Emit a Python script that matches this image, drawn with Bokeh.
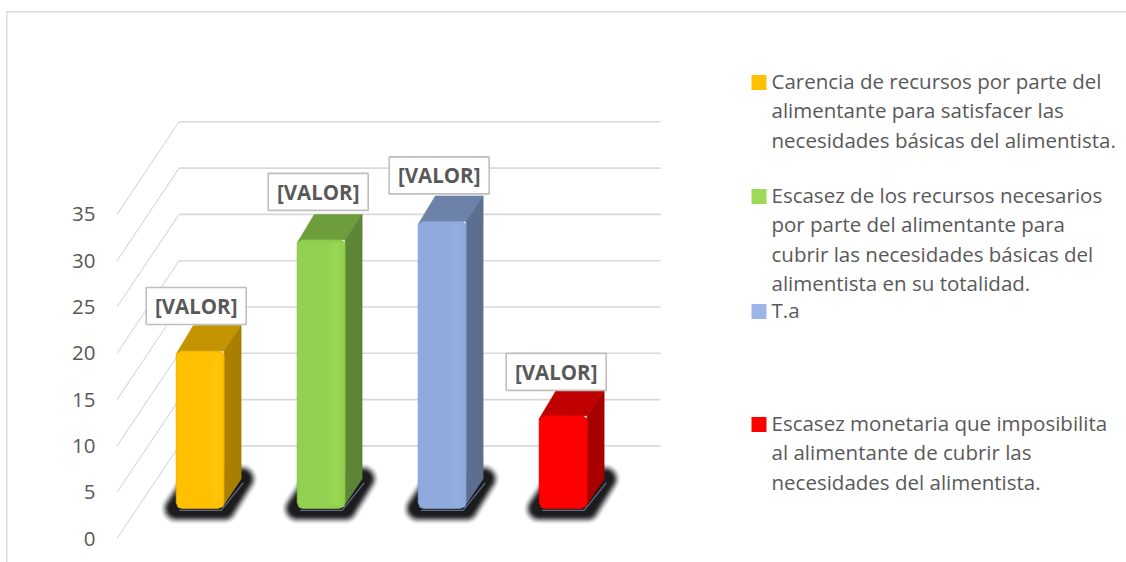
from bokeh.plotting import figure
from bokeh.embed import file_html
from bokeh.resources import INLINE
from bokeh.models import Range1d, FixedTicker
from bokeh.core.properties import value

# ---- data ----
categories = ["Carencia", "Escasez de recursos", "T.a", "Escasez monetaria"]
values = [17, 29, 31, 10]
data_labels = ["[VALOR]", "[VALOR]", "[VALOR]", "[VALOR]"]
axis_ticks = [0, 5, 10, 15, 20, 25, 30, 35]
legend_texts = [
    ["Carencia de recursos por parte del", "alimentante para satisfacer las", "necesidades básicas del alimentista."],
    ["Escasez de los recursos necesarios", "por parte del alimentante para", "cubrir las necesidades básicas del", "alimentista en su totalidad."],
    ["T.a"],
    ["Escasez monetaria que imposibilita", "al alimentante de cubrir las", "necesidades del alimentista."],
]
front_colors = ["#FFC000", "#92D050", "#8FAADC", "#FF0000"]
band_colors = ["#FFC40A", "#98DA50", "#94B0E2", "#FF0000"]
edge_colors = ["#E6AC00", "#83BB48", "#809AC6", "#E60000"]
top_colors = ["#C49300", "#6E9E3C", "#6C82A8", "#C00000"]
side_colors = ["#A97F00", "#5C8535", "#5C6F91", "#A80000"]
legend_colors = ["#FFC000", "#9BDB58", "#9AB5E6", "#FF0000"]

# ---- layout (pixel scale of the reference) ----
W, H = 1126, 562
PX_X, PX_Y = 121.0, 9.26     # px per category, px per value unit
X0, Y0 = 179.5, 538.0        # image position of category 0 / value 0 at wall front
DX, DY = 62.0, 10.0          # depth: px in x, value units in y
FRAME_L = 98
FONT = "Open Sans"
TXT = "#595959"
LABEL_DX = [-21, -20, -20, -24]
LABEL_DY = [-19.5, -22.5, -20.5, -18.5]

def ux(ipx):
    return (ipx - X0) / PX_X

def vy(ipx):
    return (Y0 - ipx) / PX_Y

def pt(u, v, d=0.0, ox=0.0, oy=0.0):
    return (u + d * DX / PX_X + ox / PX_X, v + d * DY - oy / PX_Y)

# the chart's outer border lies behind the transparent canvas, outside the plot frame
border_css = {
    "background-image": "linear-gradient(#dcdcdc,#dcdcdc),linear-gradient(#dcdcdc,#dcdcdc)",
    "background-size": "100% 1.5px,1.5px 100%",
    "background-position": "6px 11px,6px 11px",
    "background-repeat": "no-repeat",
}
p = figure(width=W, height=H, output_backend="svg", toolbar_location=None,
           x_range=Range1d(ux(FRAME_L), ux(W)), y_range=Range1d(vy(H), vy(0)),
           min_border_left=FRAME_L, min_border_right=0, min_border_top=0, min_border_bottom=0,
           x_axis_location=None, margin=(0, 0, 0, 0), styles=border_css)
p.grid.visible = False
p.outline_line_color = None
p.background_fill_color = None
p.border_fill_color = None

ax = p.yaxis[0]
ax.ticker = FixedTicker(ticks=axis_ticks)
ax.axis_line_color = None
ax.major_tick_line_color = None
ax.minor_tick_line_color = None
ax.major_label_text_font = FONT
ax.major_label_text_font_size = "20.5px"
ax.major_label_text_color = TXT
ax.major_label_standoff = -3

# walls
U_L, U_R = -0.52, 3.46
for t in axis_ticks:
    a, b, c = pt(U_L, t), pt(U_L, t, 1.0), pt(U_R, t, 1.0)
    p.line([a[0], b[0]], [a[1], b[1]], line_color="#d9d9d9", line_width=1.1)
    p.line([b[0], c[0]], [b[1], c[1]], line_color="#d9d9d9", line_width=1.6)

# bars
HALF = 0.198
D1, D2 = 0.325, 0.60
for i, v in enumerate(values):
    l, r = i - HALF, i + HALF
    fp = [pt(l, 0, D1), pt(l, 0, D2), pt(r, 0, D2, 1, -4), pt(r, 0, D1)]
    xs = [q[0] for q in fp]
    ys = [q[1] for q in fp]
    for lw, al in [(31, 0.05), (29, 0.08), (27, 0.12), (25, 0.16), (23, 0.22), (21, 0.3), (19, 0.4), (17, 0.55), (14, 0.8)]:
        p.patch(xs, ys, fill_color="#18181c", fill_alpha=al, line_color="#18181c",
                line_alpha=al, line_width=lw, line_join="round")
    # highlight under the bar
    g = [pt(l, 0, D1, 3, 2), pt(r, 0, D1, -3, 2), pt(r, 0, D2, 2, 0)]
    p.line([q[0] for q in g], [q[1] for q in g], line_color="#5f6a86", line_width=1.3)
    # top
    top = [pt(l, v, D1, 0, 3), pt(l, v, D2), pt(r, v, D2), pt(r, v, D1)]
    p.patch([q[0] for q in top], [q[1] for q in top], fill_color=top_colors[i], line_color=top_colors[i], line_width=0.5)
    # side
    side = [pt(r, 0, D1, 0, -4), pt(r, 0, D2, 0, -4), pt(r, v, D2), pt(r, v, D1)]
    p.patch([q[0] for q in side], [q[1] for q in side], fill_color=side_colors[i], line_color=side_colors[i], line_width=0.5)
    # front with softened corners
    f = [pt(l, 0, D1, 0, -6), pt(l, 0, D1, 2, -1), pt(l, 0, D1, 6, 0), pt(r, 0, D1, -6, 0), pt(r, 0, D1, -1, -2),
         pt(r, 0, D1, 0, -6), pt(r, v, D1, 0, 3), pt(r, v, D1, -5, 0), pt(l, v, D1, 5, 0), pt(l, v, D1, 0, 3)]
    p.patch([q[0] for q in f], [q[1] for q in f], fill_color=front_colors[i], line_color=edge_colors[i], line_width=0.8)
    # soft vertical band
    for a0, a1, al in [(-16, -3, 0.45), (-13, -6, 0.7)]:
        b = [pt(r, 0, D1, a0, -3), pt(r, 0, D1, a1, -3), pt(r, v, D1, a1, 3), pt(r, v, D1, a0, 3)]
        p.patch([q[0] for q in b], [q[1] for q in b], fill_color=band_colors[i], fill_alpha=al, line_color=None)
    # data label sits on the back edge of the bar top
    c = pt(i, v, D2, LABEL_DX[i], LABEL_DY[i])
    p.rect([c[0]], [c[1]], width=100, height=37, width_units="screen", height_units="screen",
           fill_color="white", line_color="#bfbfbf", line_width=1.6)
    p.text([c[0]], [c[1]], text=[data_labels[i]], text_font=value(FONT), text_font_style="bold",
           text_font_size="20.5px", text_color=TXT, text_align="center", text_baseline="middle")

# legend
LEG_Y = [82, 196, 311, 424]
PITCH = 29.3
TEXT_SHIFT = -1.5
for k, lines in enumerate(legend_texts):
    p.quad(left=[ux(751)], right=[ux(766)], top=[vy(LEG_Y[k] - 7.5)], bottom=[vy(LEG_Y[k] + 7.5)],
           fill_color=legend_colors[k], line_color=None)
    for j, s in enumerate(lines):
        p.text([ux(771)], [vy(LEG_Y[k] + TEXT_SHIFT + j * PITCH)], text=[s], text_font=value(FONT),
               text_font_size="20.5px", text_color=TXT, text_align="left", text_baseline="middle")

open("out.html", "w").write(file_html(p, INLINE))
